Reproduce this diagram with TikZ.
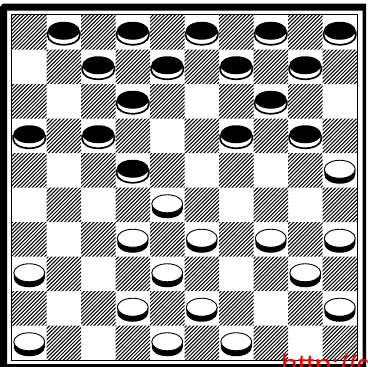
\documentclass[tikz,border=0pt]{standalone}
\usepackage{fontspec}
\newfontfamily\urlfont{Liberation Sans}
\begin{document}
\begin{tikzpicture}[x=1pt,y=-1pt,
  hatch/.style={line width=1.0pt,black},
  frameline/.style={line width=0.9pt,black},
  blackman/.pic={
    \fill[white] (-16,-1) -- (-16,3.5) arc[start angle=180,end angle=0,x radius=16,y radius=9] -- (16,-1) arc[start angle=0,end angle=-180,x radius=16,y radius=9] -- cycle;
    \draw[line width=1.7pt] (-16,-1) -- (-16,3.5) arc[start angle=180,end angle=0,x radius=16,y radius=9] -- (16,-1);
    \fill[black] (0,-1.5) ellipse[x radius=16,y radius=9];
  },
  whiteman/.pic={
    \fill[black] (-15.5,-1) -- (-15.5,4.5) arc[start angle=180,end angle=0,x radius=15.5,y radius=9] -- (15.5,-1) arc[start angle=0,end angle=180,x radius=15.5,y radius=9] -- cycle;
    \filldraw[fill=white,draw=black,line width=0.9pt] (0,-1) ellipse[x radius=15.5,y radius=9];
  }]
\useasboundingbox (0,0) rectangle (367,367);
\clip (0,0) rectangle (367,367);
\fill[white] (0,0) rectangle (367,367);
% hatched squares
\begin{scope}
  \clip \foreach \r in {0,...,9} {\foreach \k [evaluate=\k as \c using {2*\k+mod(\r,2)}] in {0,...,4} {({12+34.5*\c},{15+34.5*\r}) rectangle +(34.5,34.5)}};
  \foreach \a in {0,...,195} \draw[hatch] ({-352+3.7*\a},361) -- ++(347,-347);
\end{scope}
% board outline
\draw[frameline] (11.5,14.5) rectangle (357.5,360.5);
% outer frame
\fill[black,even odd rule] (3,3.5) -- (366,3.5) -- (366,368) -- (0,368) -- (0,7) -- cycle
  (7,10.5) rectangle (362.5,364);
% pieces
\foreach \c/\r in {1/0,3/0,5/0,7/0,9/0,2/1,4/1,6/1,8/1,3/2,7/2,0/3,2/3,6/3,8/3,3/4}
  \pic at ({12+34.5*(\c+0.5)},{15+34.5*(\r+0.5)}) {blackman};
\foreach \c/\r in {9/4,4/5,3/6,5/6,7/6,9/6,0/7,4/7,8/7,3/8,5/8,9/8,0/9,4/9,6/9}
  \pic at ({12+34.5*(\c+0.5)},{15+34.5*(\r+0.5)}) {whiteman};
% watermark
\node[anchor=base west,inner sep=0pt,text={rgb,255:red,255;green,0;blue,0},font=\urlfont\fontsize{30}{30}\selectfont] (wm) at (281,375) {http://d};
\end{tikzpicture}
\end{document}
